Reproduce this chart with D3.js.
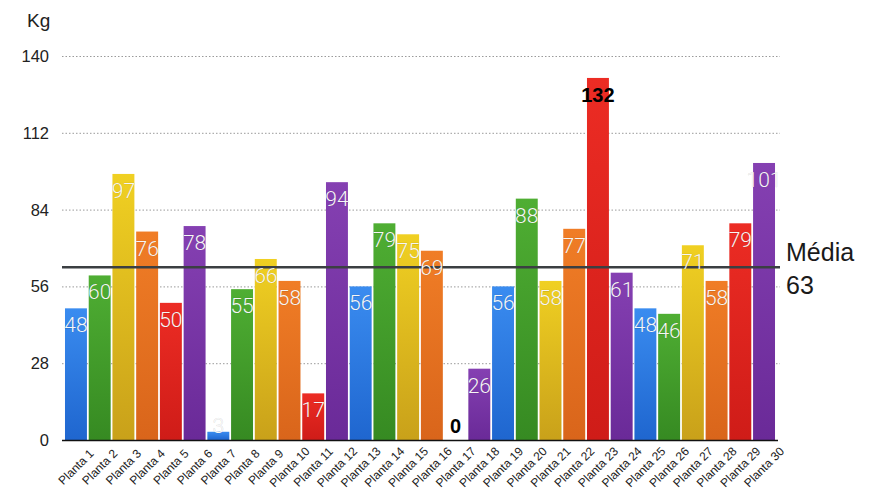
<!DOCTYPE html>
<html>
<head>
<meta charset="utf-8">
<script src="https://cdn.jsdelivr.net/npm/d3@7"></script>
<style>
  html, body { margin: 0; padding: 0; background: #fff; }
  svg { display: block; }
</style>
</head>
<body>
<script>
const categories = ["Planta 1","Planta 2","Planta 3","Planta 4","Planta 5","Planta 6","Planta 7","Planta 8","Planta 9","Planta 10",
  "Planta 11","Planta 12","Planta 13","Planta 14","Planta 15","Planta 16","Planta 17","Planta 18","Planta 19","Planta 20",
  "Planta 21","Planta 22","Planta 23","Planta 24","Planta 25","Planta 26","Planta 27","Planta 28","Planta 29","Planta 30"];
const values = [48,60,97,76,50,78,3,55,66,58,17,94,56,79,75,69,0,26,56,88,58,77,132,61,48,46,71,58,79,101];
const yTicks = [0,28,56,84,112,140];
const mediaValue = 63;
const mediaLabel = ["Média", "63"];
const unitLabel = "Kg";
const palette = [
  ["#3a8cf0", "#1f66cf"], // blue
  ["#4fae33", "#368a22"], // green
  ["#f0d022", "#c9a11a"], // yellow
  ["#f07d26", "#d9651b"], // orange
  ["#ec2c24", "#cf1c18"], // red
  ["#8540b2", "#6a2a98"]  // purple
];

const W = 869, H = 500;
const svg = d3.select("body").append("svg").attr("width", W).attr("height", H);

const x = d3.scaleBand().domain(categories).range([64.1, 775.9]).paddingInner(0.075).paddingOuter(0.0375);
const y = d3.scaleLinear().domain([0, 140]).range([440, 56]);

const defs = svg.append("defs");
palette.forEach((c, i) => {
  const g = defs.append("linearGradient").attr("id", "g" + i)
    .attr("x1", 0).attr("y1", 0).attr("x2", 0).attr("y2", 1);
  g.append("stop").attr("offset", "0%").attr("stop-color", c[0]);
  g.append("stop").attr("offset", "100%").attr("stop-color", c[1]);
});

// gridlines
svg.append("g").selectAll("line").data(yTicks.filter(d => d > 0)).join("line")
  .attr("x1", 62).attr("x2", 780)
  .attr("y1", d => y(d) + 0.5).attr("y2", d => y(d) + 0.5)
  .attr("stroke", "#9a9a9a").attr("stroke-width", 1).attr("stroke-dasharray", "1.5,2");

// y tick labels
svg.append("g").selectAll("text").data(yTicks).join("text")
  .attr("x", 49).attr("y", d => y(d))
  .attr("dy", "0.36em")
  .attr("text-anchor", "end")
  .attr("font-family", "Liberation Sans, Arial, sans-serif")
  .attr("font-size", 16.5).attr("fill", "#222")
  .text(d => d);

svg.append("text").attr("x", 27).attr("y", 27)
  .attr("font-family", "Liberation Sans, Arial, sans-serif")
  .attr("font-size", 19).attr("fill", "#222").text(unitLabel);

// bars
const data = categories.map((c, i) => ({ c, v: values[i], i }));
svg.append("g").selectAll("rect").data(data).join("rect")
  .attr("x", d => x(d.c)).attr("width", x.bandwidth())
  .attr("y", d => y(d.v)).attr("height", d => y(0) - y(d.v))
  .attr("fill", d => `url(#g${d.i % 6})`);

// baseline
svg.append("line").attr("x1", 62).attr("x2", 778).attr("y1", 440.5).attr("y2", 440.5)
  .attr("stroke", "#111").attr("stroke-width", 1.5);

// mean line
svg.append("line").attr("x1", 62).attr("x2", 780)
  .attr("y1", y(mediaValue)).attr("y2", y(mediaValue))
  .attr("stroke", "#3b3f42").attr("stroke-width", 2.5);

svg.append("text").attr("x", 786).attr("y", 261)
  .attr("font-family", "Liberation Sans, Arial, sans-serif")
  .attr("font-size", 25).attr("fill", "#1a1a1a").text(mediaLabel[0]);
svg.append("text").attr("x", 786).attr("y", 294)
  .attr("font-family", "Liberation Sans, Arial, sans-serif")
  .attr("font-size", 25).attr("fill", "#1a1a1a").text(mediaLabel[1]);

// value labels
const vmax = d3.max(values), vmin = d3.min(values);
svg.append("g").selectAll("text").data(data).join("text")
  .attr("x", d => x(d.c) + x.bandwidth() / 2)
  .attr("y", d => Math.min(y(d.v) + 24, y(0) - 7))
  .attr("text-anchor", "middle")
  .attr("font-family", d => (d.v === vmax || d.v === vmin) ? "Liberation Sans, Arial, sans-serif" : "Roboto, sans-serif")
  .attr("font-weight", d => (d.v === vmax || d.v === vmin) ? 700 : 300)
  .attr("font-size", d => (d.v === vmax || d.v === vmin) ? 20 : 21)
  .attr("fill", d => (d.v === vmax || d.v === vmin) ? "#000" : "#f6f6f6")
  .attr("stroke", d => (d.v === vmax || d.v === vmin) ? "none" : "rgba(0,0,0,0.18)")
  .attr("stroke-width", 0.6)
  .attr("paint-order", "stroke")
  .text(d => d.v);

// x labels
svg.append("g").selectAll("text").data(categories).join("text")
  .attr("transform", d => `translate(${x(d) + x.bandwidth() / 2},467) rotate(-45)`)
  .attr("text-anchor", "middle")
  .attr("dy", "0.35em")
  .attr("font-family", "Liberation Sans, Arial, sans-serif")
  .attr("font-size", 12).attr("fill", "#222")
  .text(d => d);
</script>
</body>
</html>
